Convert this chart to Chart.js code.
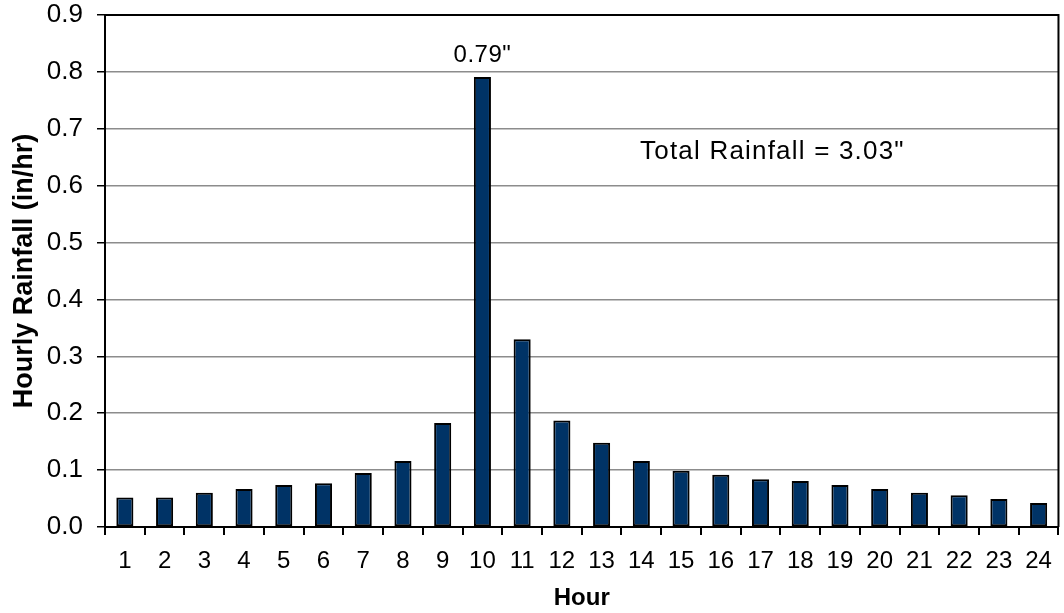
<!DOCTYPE html>
<html>
<head>
<meta charset="utf-8">
<script src="https://cdn.jsdelivr.net/npm/chart.js@4.4.1/dist/chart.umd.min.js"></script>
<style>
  html, body { margin: 0; padding: 0; background: #fff; }
  #wrap { width: 1064px; height: 613px; position: relative; }
</style>
</head>
<body>
<div id="wrap"><canvas id="rainChart"></canvas></div>
<script>
// hours on the x axis
const hours = ['1','2','3','4','5','6','7','8','9','10','11','12',
               '13','14','15','16','17','18','19','20','21','22','23','24'];
// hourly rainfall, in/hr
const rainfall = [0.052, 0.052, 0.060, 0.067, 0.074, 0.077, 0.095, 0.116, 0.183, 0.791, 0.330, 0.187,
                  0.148, 0.116, 0.099, 0.092, 0.084, 0.081, 0.074, 0.067, 0.060, 0.056, 0.049, 0.042];
// y axis range
const yMin = 0;
const yMax = 0.9;
const yStep = 0.1;
// text on the chart
const totalLabel = 'Total Rainfall = 3.03"';
const xTitle = 'Hour';
const yTitle = 'Hourly Rainfall (in/hr)';

const FONT = '"Liberation Sans", Arial, sans-serif';

// black frame round the plot area (top + right sides)
const frame = {
    id: 'frame',
    afterDraw(chart) {
        const { ctx, chartArea: a } = chart;
        ctx.save();
        ctx.strokeStyle = '#000';
        ctx.lineWidth = 2;
        ctx.beginPath();
        ctx.moveTo(a.left, a.top);
        ctx.lineTo(a.right, a.top);
        ctx.lineTo(a.right, a.bottom);
        ctx.stroke();
        ctx.restore();
    }
};

// peak label and total text
const notes = {
    id: 'notes',
    afterDatasetsDraw(chart) {
        const { ctx, scales } = chart;
        const meta = chart.getDatasetMeta(0);
        let peak = 0;
        rainfall.forEach((v, i) => { if (v > rainfall[peak]) peak = i; });
        const bar = meta.data[peak];
        ctx.save();
        ctx.fillStyle = '#000';
        ctx.font = '24px ' + FONT;
        ctx.textAlign = 'center';
        ctx.textBaseline = 'bottom';
        ctx.letterSpacing = '0.5px';
        ctx.fillText(rainfall[peak].toFixed(2) + '"', bar.x, bar.y - 10);

        ctx.font = '26px ' + FONT;
        ctx.letterSpacing = '1.2px';
        ctx.textBaseline = 'middle';
        ctx.fillText(totalLabel, scales.x.getPixelForValue(16.3), scales.y.getPixelForValue(0.659));
        ctx.restore();
    }
};

const ctx = document.getElementById('rainChart').getContext('2d');
new Chart(ctx, {
    type: 'bar',
    data: {
        labels: hours,
        datasets: [{
            data: rainfall,
            backgroundColor: '#003366',
            borderColor: '#000',
            borderWidth: 2,
            borderSkipped: false,
            categoryPercentage: 1,
            barPercentage: 0.43
        }]
    },
    options: {
        responsive: true,
        maintainAspectRatio: false,
        animation: false,
        layout: { padding: { top: 15, right: 2, left: 0, bottom: 0 } },
        plugins: {
            legend: { display: false },
            tooltip: { enabled: false }
        },
        scales: {
            x: {
                grid: {
                    offset: true,
                    drawOnChartArea: false,
                    color: '#000',
                    tickColor: '#000',
                    tickLength: 8,
                    lineWidth: 2
                },
                border: { color: '#000', width: 2 },
                ticks: {
                    color: '#000',
                    font: { family: FONT, size: 24 },
                    padding: 12,
                    maxRotation: 0,
                    autoSkip: false
                },
                title: {
                    display: true,
                    text: xTitle,
                    color: '#000',
                    font: { family: FONT, size: 24, weight: 'bold' },
                    padding: { top: 0, bottom: 0 }
                },
                afterFit(scale) { scale.height = 86; }
            },
            y: {
                min: yMin,
                max: yMax,
                grid: {
                    color: '#8c8c8c',
                    lineWidth: 1.5,
                    tickColor: '#000',
                    tickLength: 8
                },
                border: { color: '#000', width: 2 },
                ticks: {
                    stepSize: yStep,
                    color: '#000',
                    font: { family: FONT, size: 26 },
                    padding: 14,
                    callback: v => Number(v).toFixed(1)
                },
                title: {
                    display: true,
                    text: yTitle,
                    color: '#000',
                    font: { family: FONT, size: 27, weight: 'bold' },
                    padding: { top: 8, bottom: 0 }
                },
                afterFit(scale) {
                    scale.width = 105;
                    scale.paddingTop = 0;
                    scale.paddingBottom = 0;
                }
            }
        }
    },
    plugins: [frame, notes]
});
</script>
</body>
</html>
